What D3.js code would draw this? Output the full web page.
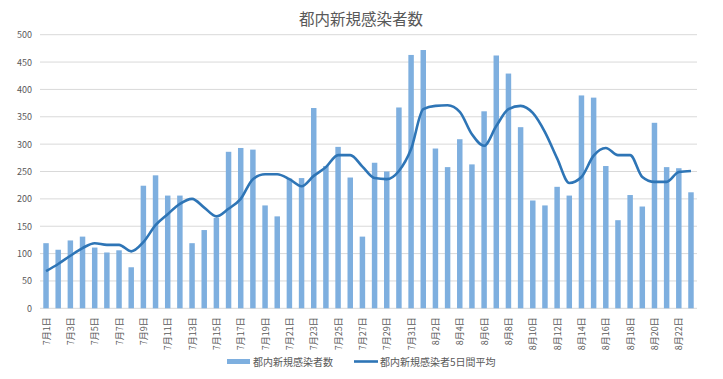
<!DOCTYPE html>
<html>
<head>
<meta charset="utf-8">
<script src="https://cdn.jsdelivr.net/npm/d3@7"></script>
<style>
  body { margin: 0; background: #fff; }
  svg { font-family: "Noto Sans CJK JP", "Noto Sans", sans-serif; }
</style>
</head>
<body>
<div id="chart"></div>
<script>
// data: 2020/7/1 .. 8/23
const days = [];
for (let i = 0; i < 31; i++) days.push(`7月${i + 1}日`);
for (let i = 0; i < 23; i++) days.push(`8月${i + 1}日`);

const dailyCases = [
  119, 107, 124, 131, 111, 102, 106, 75, 224, 243,
  206, 206, 119, 143, 165, 286, 293, 290, 188, 168,
  237, 238, 366, 260, 295, 239, 131, 266, 250, 367,
  463, 472, 292, 258, 309, 263, 360, 462, 429, 331,
  197, 188, 222, 206, 389, 385, 260, 161, 207, 186,
  339, 258, 256, 212
];

const avg5 = [
  68, 81, 96, 110, 119, 116, 116, 104, 121, 152,
  172, 191, 200, 184, 168, 182, 200, 236, 245, 245,
  236, 223, 242, 258, 280, 280, 259, 238, 236, 251,
  291, 364, 370, 371, 359, 318, 297, 333, 364, 370,
  357, 322, 274, 229, 240, 279, 293, 280, 280, 240,
  231, 231, 249, 251
];

const yTicks = [0, 50, 100, 150, 200, 250, 300, 350, 400, 450, 500];

const W = 723, H = 379;
const margin = { top: 34.7, right: 26, bottom: 70.7, left: 40 };
const innerW = W - margin.left - margin.right;
const innerH = H - margin.top - margin.bottom;

const svg = d3.select('#chart').append('svg')
  .attr('width', W).attr('height', H);

svg.append('text')
  .attr('x', 361).attr('y', 25)
  .attr('text-anchor', 'middle')
  .attr('fill', '#595959')
  .style('font-size', '15.5px')
  .text('都内新規感染者数');

const g = svg.append('g').attr('transform', `translate(${margin.left},${margin.top})`);

const x = d3.scaleBand().domain(days).range([0, innerW]).paddingInner(0.55).paddingOuter(0.27);
const y = d3.scaleLinear().domain([0, 500]).range([innerH, 0]);

// gridlines
g.selectAll('.grid').data(yTicks).join('line')
  .attr('x1', 0).attr('x2', innerW)
  .attr('y1', d => y(d)).attr('y2', d => y(d))
  .attr('stroke', '#d9d9d9').attr('stroke-width', 1);

// y labels
g.selectAll('.ylab').data(yTicks).join('text')
  .attr('x', -8).attr('y', d => y(d) + 3.5)
  .attr('text-anchor', 'end')
  .attr('fill', '#595959')
  .style('font-size', '9px')
  .text(d => d);

// bars
g.selectAll('.bar').data(dailyCases).join('rect')
  .attr('x', (d, i) => x(days[i]))
  .attr('y', d => y(d))
  .attr('width', x.bandwidth())
  .attr('height', d => innerH - y(d))
  .attr('fill', '#7eafdf');

// 5-day average line (excel-style smoothing, no big overshoot)
const line = d3.line()
  .x((d, i) => x(days[i]) + x.bandwidth() / 2)
  .y(d => y(d))
  .curve(d3.curveMonotoneX);

g.append('path')
  .datum(avg5)
  .attr('d', line)
  .attr('fill', 'none')
  .attr('stroke', '#2e75b6')
  .attr('stroke-width', 2.6)
  .attr('stroke-linejoin', 'round');

// x labels, every other day
g.selectAll('.xlab').data(days.filter((d, i) => i % 2 === 0)).join('text')
  .attr('transform', d => `translate(${x(d) + x.bandwidth() / 2 + 3.5},${innerH + 9}) rotate(-90)`)
  .attr('text-anchor', 'end')
  .attr('fill', '#595959')
  .style('font-size', '9px')
  .text(d => d);

// legend
const lg = svg.append('g');
lg.append('rect').attr('x', 227).attr('y', 359).attr('width', 23).attr('height', 5).attr('fill', '#7eafdf');
lg.append('text').attr('x', 253).attr('y', 365.5).attr('fill', '#595959').style('font-size', '10px').text('都内新規感染者数');
lg.append('line').attr('x1', 354).attr('x2', 378).attr('y1', 361.5).attr('y2', 361.5)
  .attr('stroke', '#2e75b6').attr('stroke-width', 2.6);
lg.append('text').attr('x', 380).attr('y', 365.5).attr('fill', '#595959').style('font-size', '10px').text('都内新規感染者5日間平均');
</script>
</body>
</html>
